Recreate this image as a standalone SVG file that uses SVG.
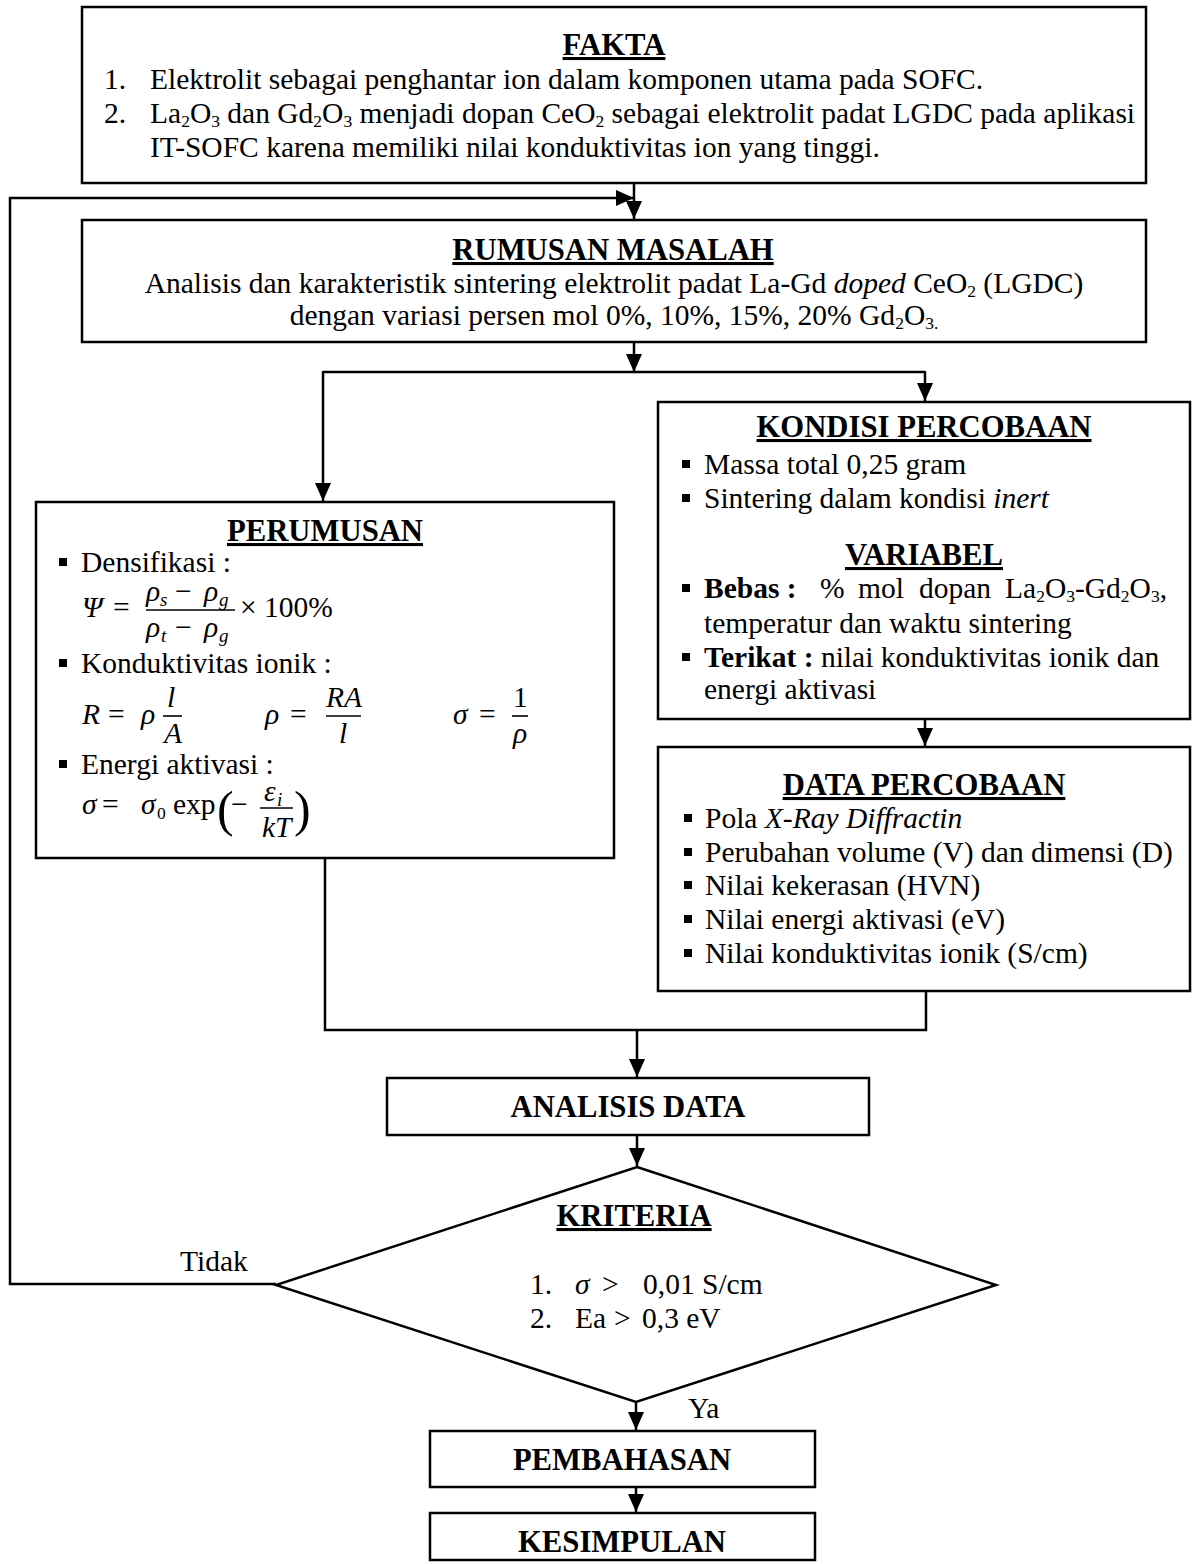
<svg xmlns="http://www.w3.org/2000/svg" width="1195" height="1564" viewBox="0 0 1195 1564">
<style>
text{font-family:"Liberation Serif","Times New Roman",serif;font-size:29.5px;fill:#000}
.h{font-weight:bold;font-size:30.7px;text-decoration:underline;text-anchor:middle}
.hb{font-weight:bold;font-size:30.7px;text-anchor:middle}
.c{text-anchor:middle}
.i{font-style:italic}
.b{font-weight:bold}
.s{font-size:17.5px}
.ms{font-size:19px;font-style:italic}
.box{fill:#fff;stroke:#000;stroke-width:2.5}
.ln{fill:none;stroke:#000;stroke-width:2.5}
.fb{stroke:#000;stroke-width:1.6}
.bul{fill:#000}
</style>
<defs>
<marker id="ah" viewBox="0 0 18 16" refX="18" refY="8" markerWidth="18" markerHeight="16" markerUnits="userSpaceOnUse" orient="auto">
<path d="M0,0 L18,8 L0,16 z" fill="#000"/>
</marker>
</defs>
<rect width="1195" height="1564" fill="#fff"/>

<g id="connectors">
<line class="ln" x1="634" y1="183" x2="634" y2="219" marker-end="url(#ah)"/>
<polyline class="ln" points="276,1284 10,1284 10,198 634,198" marker-end="url(#ah)"/>
<line class="ln" x1="634" y1="342" x2="634" y2="372" marker-end="url(#ah)"/>
<polyline class="ln" points="323,372 925,372"/>
<line class="ln" x1="323" y1="371" x2="323" y2="501" marker-end="url(#ah)"/>
<line class="ln" x1="925" y1="371" x2="925" y2="401" marker-end="url(#ah)"/>
<line class="ln" x1="925" y1="719" x2="925" y2="746" marker-end="url(#ah)"/>
<polyline class="ln" points="325,858 325,1030 926,1030 926,991"/>
<line class="ln" x1="637" y1="1030" x2="637" y2="1077" marker-end="url(#ah)"/>
<line class="ln" x1="637" y1="1135" x2="637" y2="1166" marker-end="url(#ah)"/>
<line class="ln" x1="636" y1="1402" x2="636" y2="1430" marker-end="url(#ah)"/>
<line class="ln" x1="636" y1="1487" x2="636" y2="1512" marker-end="url(#ah)"/>
<text x="180" y="1271">Tidak</text>
<text x="688" y="1418">Ya</text>
</g>

<g id="fakta">
<rect class="box" x="82" y="7" width="1064" height="176"/>
<text class="h" x="614" y="55">FAKTA</text>
<text x="104" y="89">1.</text>
<text x="150" y="89">Elektrolit sebagai penghantar ion dalam komponen utama pada SOFC.</text>
<text x="104" y="123">2.</text>
<text x="150" y="123">La<tspan class="s" dy="4">2</tspan><tspan dy="-4">O</tspan><tspan class="s" dy="4">3</tspan><tspan dy="-4"> dan Gd</tspan><tspan class="s" dy="4">2</tspan><tspan dy="-4">O</tspan><tspan class="s" dy="4">3</tspan><tspan dy="-4"> menjadi dopan CeO</tspan><tspan class="s" dy="4">2</tspan><tspan dy="-4"> sebagai elektrolit padat LGDC pada aplikasi</tspan></text>
<text x="150" y="157">IT-SOFC karena memiliki nilai konduktivitas ion yang tinggi.</text>
</g>

<g id="rumusan">
<rect class="box" x="82" y="220" width="1064" height="122"/>
<text class="h" x="613" y="260">RUMUSAN MASALAH</text>
<text class="c" x="614" y="293">Analisis dan karakteristik sintering elektrolit padat La-Gd <tspan class="i">doped</tspan> CeO<tspan class="s" dy="4">2</tspan><tspan dy="-4"> (LGDC)</tspan></text>
<text class="c" x="614" y="325">dengan variasi persen mol 0%, 10%, 15%, 20% Gd<tspan class="s" dy="4">2</tspan><tspan dy="-4">O</tspan><tspan class="s" dy="4">3.</tspan></text>
</g>

<g id="perumusan">
<rect class="box" x="36" y="502" width="578" height="356"/>
<text class="h" x="325" y="541">PERUMUSAN</text>
<rect class="bul" x="59" y="558" width="8" height="8"/>
<text x="81" y="572">Densifikasi :</text>
<text class="i" x="82" y="617">Ψ</text>
<text x="113" y="617">=</text>
<text class="i" x="146" y="601">ρ</text><text class="ms" x="160" y="606">s</text>
<text x="175" y="601">−</text>
<text class="i" x="204" y="601">ρ</text><text class="ms" x="219" y="606">g</text>
<line class="fb" x1="146" y1="610" x2="235" y2="610"/>
<text class="i" x="146" y="637">ρ</text><text class="ms" x="161" y="642">t</text>
<text x="175" y="637">−</text>
<text class="i" x="204" y="637">ρ</text><text class="ms" x="219" y="642">g</text>
<text x="240" y="617">× 100%</text>
<rect class="bul" x="59" y="659" width="8" height="8"/>
<text x="81" y="673">Konduktivitas ionik :</text>
<text class="i" x="82" y="724">R</text>
<text x="108" y="724">=</text>
<text class="i" x="141" y="724">ρ</text>
<text class="i" x="167" y="707">l</text>
<line class="fb" x1="163" y1="716" x2="182" y2="716"/>
<text class="i" x="164" y="743">A</text>
<text class="i" x="265" y="724">ρ</text>
<text x="290" y="724">=</text>
<text class="i" x="326" y="707">RA</text>
<line class="fb" x1="326" y1="716" x2="361" y2="716"/>
<text class="i" x="339" y="743">l</text>
<text class="i" x="453" y="724">σ</text>
<text x="479" y="724">=</text>
<text x="513" y="707">1</text>
<line class="fb" x1="512" y1="716" x2="528" y2="716"/>
<text class="i" x="513" y="743">ρ</text>
<rect class="bul" x="59" y="760" width="8" height="8"/>
<text x="81" y="774">Energi aktivasi :</text>
<text class="i" x="82" y="814">σ</text>
<text x="102" y="814">=</text>
<text class="i" x="141" y="814">σ</text><text class="s" x="157" y="819">0</text>
<text x="173" y="814">exp</text>
<text x="217" y="826" style="font-size:50px">(</text>
<text x="231" y="814">−</text>
<text class="i" x="264" y="801">ε</text><text class="ms" x="277" y="806">i</text>
<line class="fb" x1="260" y1="808" x2="293" y2="808"/>
<text class="i" x="262" y="837">kT</text>
<text x="294" y="826" style="font-size:50px">)</text>
</g>

<g id="kondisi">
<rect class="box" x="658" y="402" width="532" height="317"/>
<text class="h" x="924" y="437">KONDISI PERCOBAAN</text>
<rect class="bul" x="682" y="460" width="8" height="8"/>
<text x="704" y="474">Massa total 0,25 gram</text>
<rect class="bul" x="682" y="494" width="8" height="8"/>
<text x="704" y="508">Sintering dalam kondisi <tspan class="i">inert</tspan></text>
<text class="h" x="924" y="565">VARIABEL</text>
<rect class="bul" x="682" y="584" width="8" height="8"/>
<text x="704" y="598"><tspan class="b">Bebas :</tspan></text>
<text x="820" y="598">%</text>
<text x="858" y="598">mol</text>
<text x="919" y="598">dopan</text>
<text x="1005" y="598">La<tspan class="s" dy="4">2</tspan><tspan dy="-4">O</tspan><tspan class="s" dy="4">3</tspan><tspan dy="-4">-Gd</tspan><tspan class="s" dy="4">2</tspan><tspan dy="-4">O</tspan><tspan class="s" dy="4">3</tspan><tspan dy="-4">,</tspan></text>
<text x="704" y="633">temperatur dan waktu sintering</text>
<rect class="bul" x="682" y="653" width="8" height="8"/>
<text x="704" y="667"><tspan class="b">Terikat :</tspan> nilai konduktivitas ionik dan</text>
<text x="704" y="699">energi aktivasi</text>
</g>

<g id="data">
<rect class="box" x="658" y="747" width="532" height="244"/>
<text class="h" x="924" y="795">DATA PERCOBAAN</text>
<rect class="bul" x="684" y="814" width="8" height="8"/>
<text x="705" y="828">Pola <tspan class="i">X-Ray Diffractin</tspan></text>
<rect class="bul" x="684" y="848" width="8" height="8"/>
<text x="705" y="862">Perubahan volume (V) dan dimensi (D)</text>
<rect class="bul" x="684" y="881" width="8" height="8"/>
<text x="705" y="895">Nilai kekerasan (HVN)</text>
<rect class="bul" x="684" y="915" width="8" height="8"/>
<text x="705" y="929">Nilai energi aktivasi (eV)</text>
<rect class="bul" x="684" y="949" width="8" height="8"/>
<text x="705" y="963">Nilai konduktivitas ionik (S/cm)</text>
</g>

<g id="analisis">
<rect class="box" x="387" y="1078" width="482" height="57"/>
<text class="hb" x="628" y="1117">ANALISIS DATA</text>
</g>

<g id="kriteria">
<polygon class="box" points="637,1167 996,1285 636,1402 276,1285"/>
<text class="h" x="634" y="1226">KRITERIA</text>
<text x="530" y="1294">1.</text>
<text class="i" x="575" y="1294">σ</text>
<text x="602" y="1294">&gt;</text>
<text x="643" y="1294">0,01 S/cm</text>
<text x="530" y="1328">2.</text>
<text x="575" y="1328">Ea</text>
<text x="614" y="1328">&gt;</text>
<text x="642" y="1328">0,3 eV</text>
</g>

<g id="pembahasan">
<rect class="box" x="430" y="1431" width="385" height="56"/>
<text class="hb" x="622" y="1470">PEMBAHASAN</text>
</g>

<g id="kesimpulan">
<rect class="box" x="430" y="1513" width="385" height="47"/>
<text class="hb" x="622" y="1552">KESIMPULAN</text>
</g>
</svg>
